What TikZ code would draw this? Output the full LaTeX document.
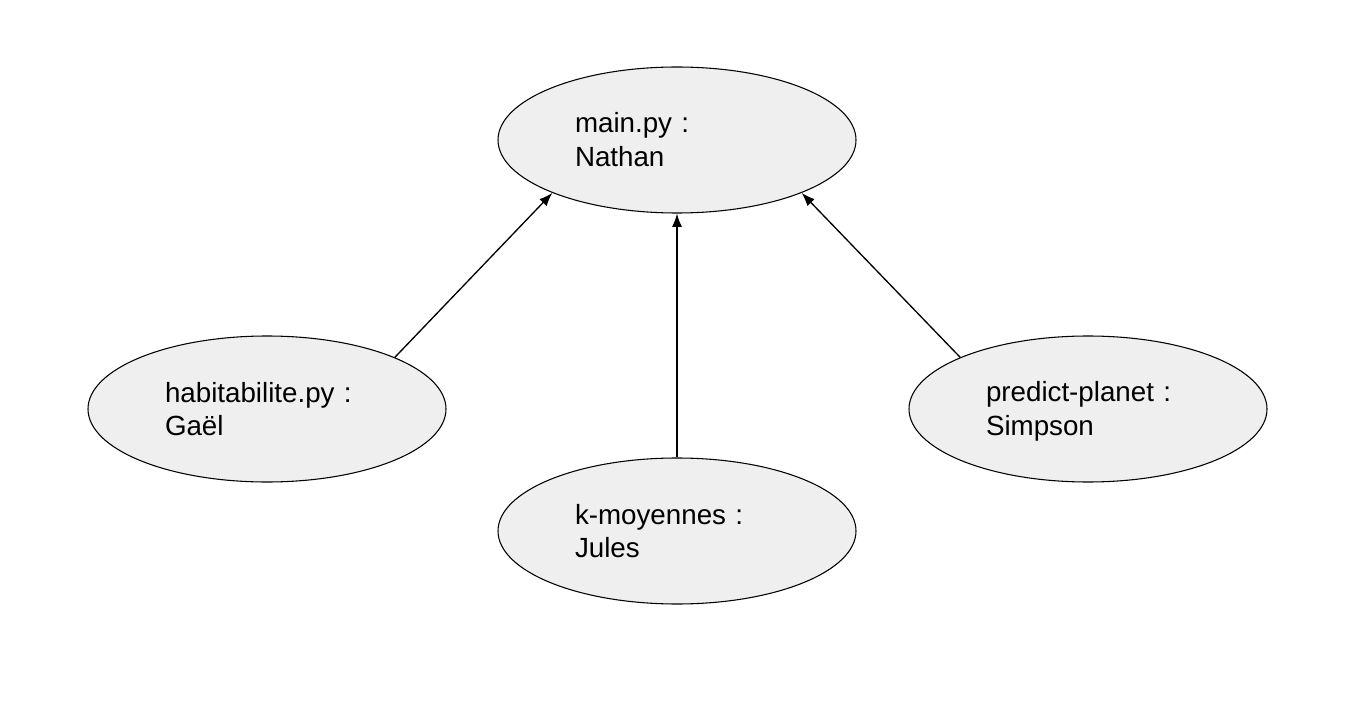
\documentclass[tikz,border=0pt]{standalone}
\usepackage{fontspec}
\setmainfont{Liberation Sans}
\usetikzlibrary{shapes.geometric, arrows.meta}
\definecolor{bulle}{HTML}{EFEFEF}
\newcommand\ligne{\rule[-4pt]{0pt}{22.5pt}}

\begin{document}
\begin{tikzpicture}[x=0.75pt, y=-0.75pt, >={Latex[length=10pt, width=7.5pt]},
  module/.style={ellipse, draw=black, line width=0.8pt, fill=bulle,
    minimum width=268.5pt, minimum height=109.5pt, inner sep=0pt,
    text width=153pt, align=left,
    font=\fontsize{20.8}{25}\selectfont},
  lien/.style={->, line width=1pt}]

  % --- 1. cadre ---
  \useasboundingbox (0,0) rectangle (1349,702);

  % --- 2. les modules ---
  \node[module] (main) at (677,140) {main.py :\ligne\\Nathan\ligne};
  \node[module] (habit) at (267,409) {habitabilite.py :\ligne\\Ga\"el\ligne};
  \node[module] (kmoy) at (677,531) {k-moyennes :\ligne\\Jules\ligne};
  \node[module] (predict) at (1088,409) {predict-planet :\ligne\\Simpson\ligne};

  % --- 3. les liens vers main.py ---
  \draw[lien] (habit.22) -- (main.203);
  \draw[lien] (kmoy.north) -- (main.south);
  \draw[lien] (predict.158) -- (main.337);

\end{tikzpicture}
\end{document}
